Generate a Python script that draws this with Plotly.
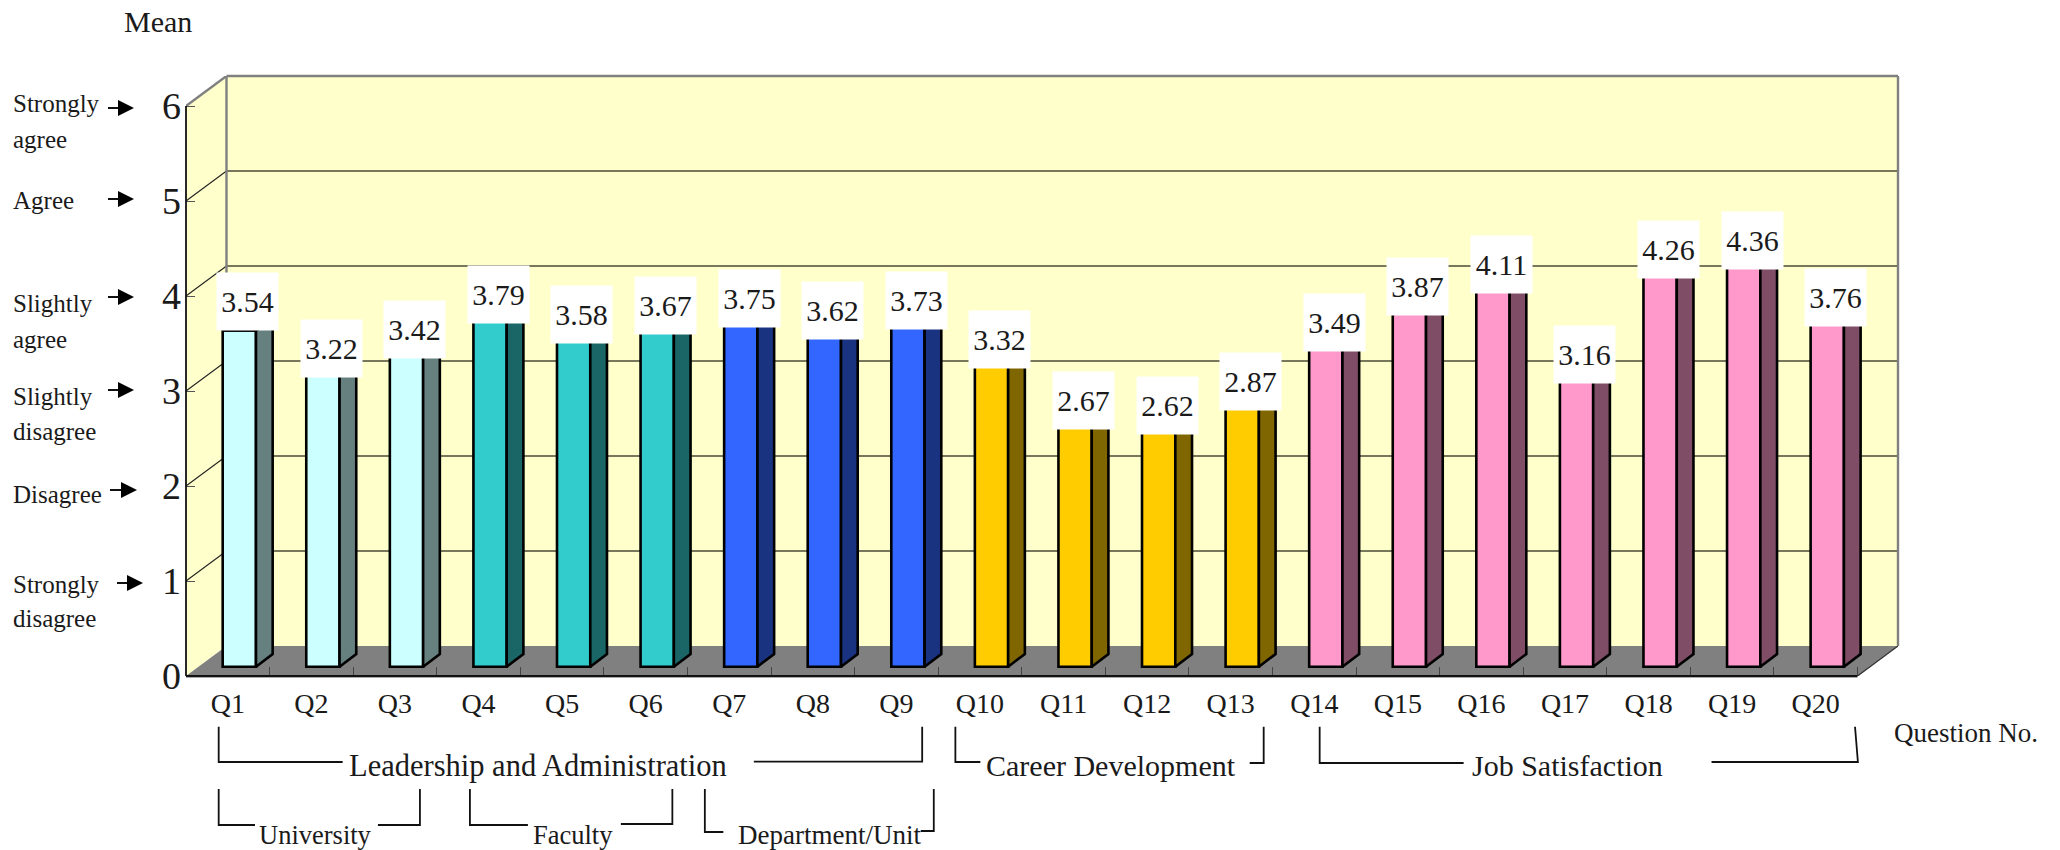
import plotly.graph_objects as go

# ---------- data ----------
categories = [f"Q{i}" for i in range(1, 21)]
values = [3.54, 3.22, 3.42, 3.79, 3.58, 3.67, 3.75, 3.62, 3.73, 3.32,
          2.67, 2.62, 2.87, 3.49, 3.87, 4.11, 3.16, 4.26, 4.36, 3.76]
group_sizes = [3, 3, 3, 4, 7]
front_colors = ["#CCFFFF", "#33CCCC", "#3366FF", "#FFCC00", "#FF99CC"]
side_colors = ["#668080", "#1A6666", "#1A3380", "#806600", "#804D66"]
y_ticks = [0, 1, 2, 3, 4, 5, 6]

# ---------- geometry ----------
W, H = 2060, 850
L, BASE = 186, 676            # front-plane origin, px
XU, YU = 83.6, 95.0           # px per category / per scale point
DX, DY = 40.5 / XU, 30 / YU   # wall depth in axis units
XMAX, YMAX = 20 + DX, 6 + DY
R, T = L + XMAX * XU, BASE - YMAX * YU
FONT = "Liberation Serif"
INK = "#1a1a1a"

BAR_W = 33.3 / XU
BAR_OFF = 11.55 / XU          # bar front sits part-way into the floor
BAR_BASE = 9.3 / YU
SIDE_X, SIDE_Y = 16.7 / XU, 12.7 / YU
LABEL_OFF = 19.9 / XU
LABEL_DROP = [0.6 / YU] + [17.3 / YU] * 19


def px(x):
    return (x - L) / (R - L)


def py(y):
    return (BASE - y) / (BASE - T)


fig = go.Figure()

# ---------- bars ----------
start = 0
for size, fc, sc in zip(group_sizes, front_colors, side_colors):
    idx = list(range(start, start + size))
    start += size
    xs = [i + 0.5 + BAR_OFF for i in idx]
    fig.add_bar(x=xs, y=[values[i] for i in idx], base=BAR_BASE, width=BAR_W,
                marker=dict(color=fc, line=dict(color="black", width=2.6)),
                showlegend=False, hoverinfo="skip", cliponaxis=False)
    sx, sy, tx, ty = [], [], [], []
    for i in idx:
        x0 = i + 0.5 + BAR_OFF - BAR_W / 2
        x1 = x0 + BAR_W
        top = BAR_BASE + values[i]
        sx += [x1, x1 + SIDE_X, x1 + SIDE_X, x1, x1, None]
        sy += [BAR_BASE, BAR_BASE + SIDE_Y, top + SIDE_Y, top, BAR_BASE, None]
        tx += [x0, x1, x1 + SIDE_X, x0 + SIDE_X, x0, None]
        ty += [top, top, top + SIDE_Y, top + SIDE_Y, top, None]
    fig.add_scatter(x=sx, y=sy, mode="lines", fill="toself", fillcolor=sc,
                    line=dict(color="black", width=2.6), showlegend=False,
                    hoverinfo="skip", cliponaxis=False)
    fig.add_scatter(x=tx, y=ty, mode="lines", fill="toself", fillcolor=fc,
                    line=dict(color="black", width=2.6), showlegend=False,
                    hoverinfo="skip", cliponaxis=False)

# ---------- walls and floor ----------
shapes = []


def poly(pts, fill, line=None, width=0):
    path = "M" + " L".join(f"{a},{b}" for a, b in pts) + " Z"
    shapes.append(dict(type="path", path=path, xref="x", yref="y", layer="below",
                       fillcolor=fill, line=dict(color=line or fill, width=width)))


def seg(x0, y0, x1, y1, color, width, ref="x", layer="below"):
    shapes.append(dict(type="line", x0=x0, y0=y0, x1=x1, y1=y1, xref=ref,
                       yref="y" if ref == "x" else "paper", layer=layer,
                       line=dict(color=color, width=width)))


poly([(DX, DY), (XMAX, DY), (XMAX, YMAX), (DX, YMAX)], "#FFFFCC")
poly([(0, 0), (DX, DY), (DX, YMAX), (0, 6)], "#FFFFCC")
poly([(0, 0), (20, 0), (XMAX, DY), (DX, DY)], "#808080")
for v in y_ticks[1:-1]:
    seg(DX, v + DY, XMAX, v + DY, "#4a4a36", 1.3)
    seg(0, v, DX, v + DY, "#222222", 1.1)

GRAY = "#808080"
seg(DX, DY, DX, YMAX, GRAY, 2.4)
seg(0, 6, DX, YMAX, GRAY, 2.4)
seg(20, 0, XMAX, DY, "#333333", 1.3)
# edges on the plot boundary are drawn unclipped, in paper space
seg(DX / XMAX, 1, 1, 1, GRAY, 2.4, "paper", "above")
seg(1, DY / YMAX, 1, 1, GRAY, 2.4, "paper", "above")
seg(0, -1.5 / (BASE - T), 20 / XMAX, -1.5 / (BASE - T), "#aaaaaa", 1.2, "paper", "above")
seg(0, 0, 0, 6 / YMAX, "#111111", 1.8, "paper", "above")
seg(0, 0, 20 / XMAX, 0, "#111111", 1.8, "paper", "above")


# ---------- px-placed furniture ----------
def pline(points, width=1.8):
    path = "M" + " L".join(f"{px(a)},{py(b)}" for a, b in points)
    shapes.append(dict(type="path", path=path, xref="paper", yref="paper",
                       layer="above", line=dict(color="#111111", width=width)))


brackets = [
    [(218.7, 726.7), (218.7, 762), (342.7, 762)],
    [(754, 761.7), (922.4, 761.7), (922.4, 726.7)],
    [(955.6, 726.7), (955.6, 762), (980.6, 762)],
    [(1250, 763), (1264, 763), (1264, 726.7)],
    [(1320, 726.7), (1320, 763), (1464, 763)],
    [(1712, 762), (1858.4, 762), (1855.5, 726.7)],
    [(218.7, 789), (218.7, 825), (255, 825)],
    [(378, 825), (420, 825), (420, 789)],
    [(470, 789), (470, 825), (528, 825)],
    [(621, 824), (672.5, 824), (672.5, 789)],
    [(705, 789), (705, 832), (723.5, 832)],
    [(921, 831), (934, 831), (934, 789)],
]
for b in brackets:
    pline(b)

arrows = [(108, 134, 108), (108, 134, 199), (108, 134, 297), (108, 134, 390),
          (110, 137, 490), (117, 143, 583)]
for x0, x1, y in arrows:
    pline([(x0, y), (x1 - 14, y)], 2)
    path = (f"M{px(x1 - 16)},{py(y - 8)} L{px(x1)},{py(y)} "
            f"L{px(x1 - 16)},{py(y + 8)} Z")
    shapes.append(dict(type="path", path=path, xref="paper", yref="paper",
                       layer="above", fillcolor="black", line=dict(width=0)))

# ---------- text ----------
ann = []


def text(s, x, y, size, xanchor="center"):
    ann.append(dict(text=s, x=px(x), y=py(y), xref="paper", yref="paper",
                    xanchor=xanchor, yanchor="middle", showarrow=False,
                    font=dict(family=FONT, size=size, color=INK)))


for i, v in enumerate(values):
    ann.append(dict(text=f"{v:.2f}", x=(i + 0.5 + LABEL_OFF) / XMAX,
                    y=(BAR_BASE + v - LABEL_DROP[i]) / YMAX,
                    xref="paper", yref="paper", xanchor="center", yanchor="bottom",
                    showarrow=False, width=61, height=57, bgcolor="white",
                    borderpad=0, align="center", valign="middle",
                    font=dict(family=FONT, size=30, color=INK)))

text("Mean", 157.7, 22, 30)
text("Question No.", 1967, 733, 27)
text("Leadership and Administration", 538, 766, 30.5)
text("Career Development", 1111, 765, 30)
text("Job Satisfaction", 1568, 765, 30)
text("University", 315.5, 835, 26.5)
text("Faculty", 573.5, 835, 26.5)
text("Department/Unit", 830, 835, 27)

side_lines = [("Strongly", 103), ("agree", 139), ("Agree", 200), ("Slightly", 303),
              ("agree", 340), ("Slightly", 397), ("disagree", 432), ("Disagree", 494),
              ("Strongly", 584), ("disagree", 618)]
for s, y in side_lines:
    text(s, 10.5, y, 25, "left")

# ---------- layout ----------
fig.update_layout(
    width=W, height=H, autosize=False,
    margin=dict(l=L, r=W - R, t=T, b=H - BASE, pad=0),
    paper_bgcolor="white", plot_bgcolor="white",
    barmode="overlay", showlegend=False,
    shapes=shapes, annotations=ann,
    xaxis=dict(range=[0, XMAX], tickmode="array",
               tickvals=[i + 0.5 for i in range(20)], ticktext=categories,
               ticks="", showgrid=False, zeroline=False, showline=False,
               tickfont=dict(family=FONT, size=28, color=INK), ticklabelstandoff=8,
               minor=dict(tickmode="array", tickvals=list(range(1, 21)), ticks="inside",
                          ticklen=9, tickcolor="#444444", tickwidth=1, showgrid=False)),
    yaxis=dict(range=[0, YMAX], tickmode="array", tickvals=y_ticks,
               ticks="inside", ticklen=9, tickcolor="#555555", tickwidth=1,
               showgrid=False, zeroline=False, showline=False, ticklabelstandoff=4,
               tickfont=dict(family=FONT, size=38, color=INK)),
)

fig.write_html("out.html", config=dict(displayModeBar=False),
               post_script="document.body.style.margin='0';document.documentElement.style.overflow='hidden';")
